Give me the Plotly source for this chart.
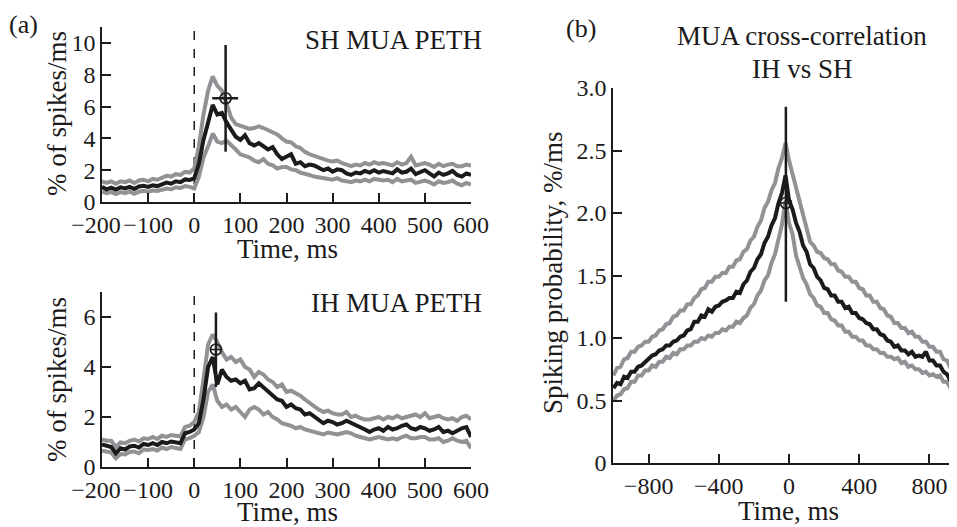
import plotly.graph_objects as go

# ---------------- data ----------------
T_PETH = list(range(-200, 601, 10))

SH_MEAN = [0.95, 0.80, 0.90, 0.78, 0.92, 0.85, 0.95, 0.82, 0.98, 1.02, 0.95, 1.05, 1.00, 1.10, 1.22, 1.15,
           1.30, 1.25, 1.42, 1.38, 1.50,
           2.40, 3.90, 5.00, 6.10, 5.50, 5.60, 5.00, 4.60, 4.10, 3.90, 4.20, 3.70, 3.55, 3.70, 3.50, 3.30,
           3.45, 3.00, 2.70, 2.85, 3.00, 2.40, 2.50, 2.25, 2.35, 2.30, 2.15, 2.00, 2.10, 1.90, 2.05, 2.00,
           1.80, 1.70, 1.85, 1.80, 1.95, 1.85, 2.00, 1.85, 1.95, 1.90, 1.80, 2.05, 1.85, 1.90, 2.10, 1.75,
           1.85, 2.00, 1.80, 1.60, 1.85, 1.70, 1.80, 1.95, 1.70, 1.60, 1.80, 1.70]
SH_UPPER = [1.30, 1.20, 1.30, 1.15, 1.30, 1.25, 1.35, 1.20, 1.35, 1.40, 1.30, 1.45, 1.40, 1.55, 1.65, 1.60,
            1.75, 1.70, 1.90, 1.85, 2.10,
            3.50, 5.50, 7.00, 7.90, 7.30, 7.00, 6.20, 5.30, 4.90, 4.80, 4.75, 4.60, 4.65, 4.75, 4.65, 4.50,
            4.40, 4.25, 4.00, 3.80, 3.75, 3.50, 3.40, 3.15, 3.00, 2.90, 2.80, 2.65, 2.60, 2.55, 2.60, 2.45,
            2.35, 2.25, 2.35, 2.30, 2.45, 2.35, 2.50, 2.40, 2.45, 2.40, 2.30, 2.50, 2.35, 2.45, 2.85, 2.30,
            2.35, 2.45, 2.35, 2.20, 2.40, 2.25, 2.35, 2.40, 2.25, 2.25, 2.35, 2.30]
SH_LOWER = [0.65, 0.55, 0.62, 0.50, 0.62, 0.55, 0.65, 0.52, 0.65, 0.70, 0.65, 0.72, 0.70, 0.78, 0.85, 0.80,
            0.92, 0.88, 1.00, 0.95, 0.85,
            1.60, 2.80, 3.50, 4.30, 3.80, 3.70, 3.85, 3.60, 3.30, 3.00, 2.90, 2.80, 2.60, 2.50, 2.70, 2.40,
            2.30, 2.10, 2.20, 2.20, 2.05, 2.00, 1.85, 1.80, 1.70, 1.60, 1.55, 1.50, 1.45, 1.40, 1.50, 1.35,
            1.30, 1.25, 1.35, 1.30, 1.40, 1.30, 1.45, 1.40, 1.35, 1.40, 1.25, 1.45, 1.30, 1.35, 1.40, 1.20,
            1.30, 1.35, 1.25, 1.10, 1.30, 1.20, 1.25, 1.35, 1.15, 1.05, 1.20, 1.10]

IH_MEAN = [0.90, 0.85, 0.80, 0.55, 0.75, 0.70, 0.82, 0.85, 0.78, 0.92, 0.88, 0.95, 0.88, 1.00, 0.95, 1.02,
           1.00, 0.95, 1.35, 1.40, 1.50,
           1.75, 2.70, 4.00, 4.40, 3.30, 3.90, 3.60, 3.45, 3.50, 3.35, 3.45, 3.10, 3.15, 3.35, 3.20, 3.00,
           2.85, 2.70, 2.65, 2.40, 2.50, 2.35, 2.30, 2.10, 2.15, 2.00, 1.90, 1.75, 1.85, 1.80, 1.70, 1.75,
           1.85, 1.77, 1.70, 1.60, 1.50, 1.40, 1.50, 1.55, 1.45, 1.60, 1.50, 1.55, 1.65, 1.70, 1.55, 1.50,
           1.60, 1.55, 1.45, 1.50, 1.60, 1.40, 1.45, 1.35, 1.45, 1.55, 1.60, 1.20]
IH_UPPER = [1.10, 1.05, 1.05, 0.80, 0.98, 0.95, 1.05, 1.10, 1.02, 1.15, 1.12, 1.20, 1.12, 1.25, 1.20, 1.28,
            1.25, 1.22, 1.60, 1.65, 1.80,
            2.20, 3.50, 4.90, 5.30, 5.00, 4.60, 4.30, 4.40, 4.20, 4.30, 4.00, 3.90, 3.60, 3.80, 3.70, 3.50,
            3.40, 3.20, 3.30, 3.00, 3.05, 2.95, 2.85, 2.70, 2.55, 2.40, 2.30, 2.20, 2.25, 2.15, 2.10, 2.10,
            2.20, 2.00, 2.05, 1.95, 1.90, 1.90, 1.95, 2.00, 1.90, 2.00, 1.95, 2.05, 1.95, 2.00, 2.05, 2.10,
            2.00, 2.15, 1.95, 2.00, 2.05, 1.95, 1.90, 1.95, 1.85, 2.00, 2.05, 1.90]
IH_LOWER = [0.65, 0.62, 0.58, 0.35, 0.52, 0.50, 0.60, 0.62, 0.55, 0.70, 0.68, 0.72, 0.66, 0.78, 0.72, 0.80,
            0.78, 0.72, 1.10, 1.15, 1.25,
            1.40, 2.00, 3.00, 3.30, 2.65, 2.40, 2.50, 2.30, 2.40, 2.20, 2.00, 2.30, 2.40, 2.30, 2.10, 2.20,
            2.00, 1.90, 1.75, 1.70, 1.65, 1.55, 1.60, 1.50, 1.45, 1.40, 1.35, 1.30, 1.38, 1.35, 1.30, 1.35,
            1.40, 1.35, 1.25, 1.20, 1.15, 1.10, 1.15, 1.20, 1.15, 1.10, 1.15, 1.10, 1.20, 1.25, 1.15, 1.15,
            1.20, 1.20, 1.10, 1.10, 1.15, 1.00, 1.05, 1.15, 1.05, 1.00, 1.05, 0.75]

T_XCORR = list(range(-1000, 961, 20))
XC_MEAN = [0.60, 0.64, 0.63, 0.69, 0.68, 0.73, 0.73, 0.77, 0.78, 0.81, 0.83, 0.86, 0.87, 0.90, 0.91, 0.94,
           0.94, 0.97, 0.98, 1.01, 1.02, 1.06, 1.07, 1.13, 1.13, 1.18, 1.17, 1.23, 1.21, 1.25, 1.26, 1.29,
           1.30, 1.32, 1.32, 1.37, 1.36, 1.43, 1.46, 1.53, 1.56, 1.63, 1.67, 1.76, 1.81, 1.90, 1.96, 2.08,
           2.16, 2.30, 2.10, 2.03, 1.92, 1.85, 1.74, 1.69, 1.59, 1.56, 1.49, 1.46, 1.40, 1.39, 1.34, 1.34,
           1.29, 1.29, 1.24, 1.25, 1.20, 1.20, 1.16, 1.15, 1.12, 1.11, 1.07, 1.07, 1.03, 1.02, 0.98, 0.97,
           0.93, 0.94, 0.90, 0.90, 0.87, 0.89, 0.85, 0.86, 0.85, 0.89, 0.82, 0.82, 0.78, 0.78, 0.73, 0.71,
           0.66, 0.65, 0.60]
XC_UPPER = [0.70, 0.76, 0.77, 0.83, 0.84, 0.89, 0.89, 0.93, 0.94, 0.97, 0.97, 1.01, 1.02, 1.06, 1.07, 1.11,
            1.12, 1.17, 1.18, 1.22, 1.22, 1.27, 1.27, 1.32, 1.34, 1.39, 1.40, 1.45, 1.45, 1.49, 1.49, 1.52,
            1.52, 1.57, 1.57, 1.62, 1.63, 1.69, 1.71, 1.78, 1.81, 1.89, 1.94, 2.04, 2.09, 2.18, 2.24, 2.36,
            2.44, 2.56, 2.42, 2.31, 2.19, 2.09, 1.96, 1.87, 1.77, 1.74, 1.69, 1.68, 1.64, 1.63, 1.59, 1.59,
            1.54, 1.53, 1.49, 1.49, 1.45, 1.45, 1.40, 1.39, 1.34, 1.34, 1.29, 1.29, 1.24, 1.23, 1.18, 1.17,
            1.12, 1.12, 1.08, 1.08, 1.04, 1.05, 1.01, 1.01, 0.97, 0.97, 0.93, 0.93, 0.89, 0.89, 0.83, 0.82,
            0.76, 0.75, 0.71]
XC_LOWER = [0.50, 0.54, 0.55, 0.59, 0.60, 0.65, 0.65, 0.70, 0.70, 0.74, 0.74, 0.78, 0.77, 0.81, 0.81, 0.85,
            0.84, 0.88, 0.87, 0.91, 0.91, 0.94, 0.94, 0.97, 0.97, 1.00, 0.99, 1.02, 1.01, 1.04, 1.04, 1.07,
            1.06, 1.09, 1.09, 1.13, 1.12, 1.16, 1.18, 1.24, 1.27, 1.34, 1.38, 1.46, 1.50, 1.60, 1.67, 1.80,
            1.91, 2.10, 1.92, 1.83, 1.66, 1.57, 1.48, 1.43, 1.35, 1.32, 1.26, 1.25, 1.20, 1.20, 1.15, 1.14,
            1.10, 1.10, 1.05, 1.05, 1.01, 1.01, 0.98, 0.98, 0.94, 0.94, 0.91, 0.91, 0.88, 0.88, 0.85, 0.85,
            0.83, 0.84, 0.80, 0.81, 0.77, 0.78, 0.75, 0.75, 0.72, 0.73, 0.70, 0.71, 0.69, 0.70, 0.65, 0.65,
            0.60, 0.60, 0.56]

# peak markers: x, y, error bars (plus / minus)
SH_PEAK = dict(x=68, y=6.52, ey_plus=3.35, ey_minus=3.36, ex_plus=27, ex_minus=29)
IH_PEAK = dict(x=47, y=4.70, ey_plus=1.48, ey_minus=1.50, ex_plus=0, ex_minus=0)
XC_PEAK = dict(x=-18, y=2.08, ey_plus=0.77, ey_minus=0.79, ex_plus=0, ex_minus=0)

STIM_ONSET = 0

PETH_TICKS = [-200, -100, 0, 100, 200, 300, 400, 500, 600]
PETH_TICKTEXT = ["\u2212200\u2002", "\u2212100", "0", "100", "200", "300", "400", "500", "600"]
XC_XTICKS = [-800, -400, 0, 400, 800]
XC_XTICKTEXT = ["\u2212800", "\u2212400", "0", "400", "800"]
XC_YTICKS = [0, 0.5, 1.0, 1.5, 2.0, 2.5, 3.0]
XC_YTICKTEXT = ["0", "0.5", "1.0", "1.5", "2.0", "2.5", "3.0"]

# ---------------- style ----------------
W, H = 957, 527
OFF = 8  # page body margin of the browser
FONT = "Liberation Serif"
INK = "#1c1a1b"
GREY = "#919196"
TICK_SIZE = 24
LABEL_SIZE = 27


def px_x(p):
    return (p - OFF) / (W - OFF)


def px_y(p):
    return 1 - (p - OFF) / (H - OFF)


fig = go.Figure()


def add_panel(xa, ya, t, mean, upper, lower, peak):
    for s in (upper, lower):
        fig.add_trace(go.Scatter(x=t, y=s, mode="lines", xaxis=xa, yaxis=ya,
                                 line=dict(color=GREY, width=4), hoverinfo="skip"))
    fig.add_trace(go.Scatter(x=t, y=mean, mode="lines", xaxis=xa, yaxis=ya,
                             line=dict(color=INK, width=4), hoverinfo="skip"))
    fig.add_trace(go.Scatter(
        x=[peak["x"]], y=[peak["y"]], mode="markers", xaxis=xa, yaxis=ya,
        marker=dict(symbol="circle-cross-open", size=11, color=INK, line=dict(width=1.6, color=INK)),
        error_y=dict(type="data", symmetric=False, array=[peak["ey_plus"]], arrayminus=[peak["ey_minus"]],
                     thickness=2.5, width=0, color=INK),
        error_x=dict(type="data", symmetric=False, array=[peak["ex_plus"]], arrayminus=[peak["ex_minus"]],
                     thickness=2.5, width=0, color=INK, visible=peak["ex_plus"] > 0),
        hoverinfo="skip"))


add_panel("x", "y", T_PETH, SH_MEAN, SH_UPPER, SH_LOWER, SH_PEAK)
add_panel("x2", "y2", T_PETH, IH_MEAN, IH_UPPER, IH_LOWER, IH_PEAK)
add_panel("x3", "y3", T_XCORR, XC_MEAN, XC_UPPER, XC_LOWER, XC_PEAK)

axis_common = dict(showline=True, linecolor=INK, linewidth=1.5, showgrid=False, zeroline=False,
                   ticks="inside", ticklen=9, tickwidth=1.5, tickcolor=INK, automargin=False,
                   tickangle=0, tickfont=dict(family=FONT, size=TICK_SIZE, color=INK))

dom_a_x = [px_x(102), px_x(471)]
fig.update_layout(
    template="none",
    width=W - OFF, height=H - OFF, margin=dict(l=0, r=0, t=0, b=0, pad=0),
    paper_bgcolor="white", plot_bgcolor="white", showlegend=False,
    font=dict(family=FONT, color=INK),
    xaxis=dict(domain=dom_a_x, range=[-200, 600], anchor="y", tickvals=PETH_TICKS,
               ticktext=PETH_TICKTEXT, **axis_common),
    yaxis=dict(domain=[px_y(202), px_y(27)], range=[0, 11], anchor="x",
               tickvals=[0, 2, 4, 6, 8, 10], **axis_common),
    xaxis2=dict(domain=dom_a_x, range=[-200, 600], anchor="y2", tickvals=PETH_TICKS,
                ticktext=PETH_TICKTEXT, **axis_common),
    yaxis2=dict(domain=[px_y(467), px_y(292)], range=[0, 7], anchor="x2",
                tickvals=[0, 2, 4, 6], **axis_common),
    xaxis3=dict(domain=[px_x(613), 1.0], range=[-1003, 957], anchor="y3", tickvals=XC_XTICKS,
                ticktext=XC_XTICKTEXT, **axis_common),
    yaxis3=dict(domain=[px_y(463), px_y(88)], range=[0, 3], anchor="x3",
                tickvals=XC_YTICKS, ticktext=XC_YTICKTEXT, **axis_common),
)

for ya in ("y", "y2"):
    xa = "x" if ya == "y" else "x2"
    fig.add_shape(type="line", xref=xa, yref=ya + " domain", x0=STIM_ONSET, x1=STIM_ONSET, y0=0, y1=0.98,
                  line=dict(color=INK, width=1.5, dash="dash"), layer="below")


def ann(text, x, y, size=LABEL_SIZE, angle=0, xanchor="center"):
    fig.add_annotation(text=text, x=px_x(x), y=px_y(y), xref="paper", yref="paper",
                       xanchor=xanchor, yanchor="middle", showarrow=False, textangle=angle,
                       font=dict(family=FONT, size=size, color=INK))


ann("(a)", 24, 25, size=26)
ann("(b)", 581, 28, size=26)
ann("SH MUA PETH", 484, 40, xanchor="right")
ann("IH MUA PETH", 484, 303, xanchor="right")
ann("MUA cross-correlation", 802, 36)
ann("IH vs SH", 802, 69)
ann("% of spikes/ms", 57, 114, angle=-90)
ann("% of spikes/ms", 57, 380, angle=-90)
ann("Spiking probability, %/ms", 553, 273, angle=-90)
ann("Time, ms", 287, 249)
ann("Time, ms", 287, 512)
ann("Time, ms", 788, 511)

fig.write_html("out.html")
